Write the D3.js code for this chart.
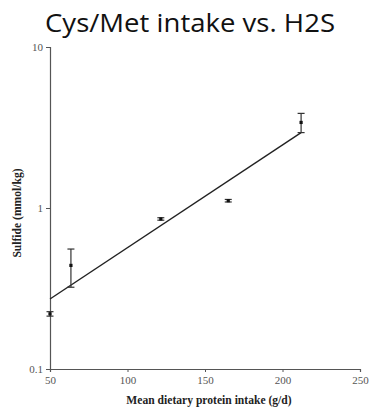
<!DOCTYPE html>
<html>
<head>
<meta charset="utf-8">
<script src="https://cdn.jsdelivr.net/npm/d3@7"></script>
<style>
  html, body { margin: 0; padding: 0; background: #fff; }
  svg { display: block; }
</style>
</head>
<body>
<svg id="chart" width="370" height="411"></svg>
<script>
// Mean dietary protein intake (g/d) per diet group
const proteinIntake = [50, 63.5, 121.5, 165, 212];
// Faecal sulfide (mmol/kg), with error bar bounds
const sulfide = [0.22, 0.44, 0.855, 1.11, 3.4];
const sulfideLow = [0.213, 0.322, 0.84, 1.09, 2.94];
const sulfideHigh = [0.227, 0.556, 0.87, 1.13, 3.87];
// Regression line end points
const fitIntake = [50, 212];
const fitSulfide = [0.272, 2.94];
// Axis ticks
const xTicks = [50, 100, 150, 200, 250];
const yTicks = [0.1, 1, 10];
const yTickLabels = ["0.1", "1", "10"];

const svg = d3.select("#chart");
const serif = "'Liberation Serif', 'Times New Roman', serif";

const x = d3.scaleLinear().domain([50, 250]).range([50, 360]);
const y = d3.scaleLog().domain([0.1, 10]).range([369, 47]);

// Title
svg.append("text")
  .attr("x", 45).attr("y", 32)
  .attr("font-family", "'Open Sans', 'Noto Sans', sans-serif")
  .attr("font-size", 26)
  .attr("textLength", 290)
  .attr("lengthAdjust", "spacingAndGlyphs")
  .attr("fill", "#111")
  .text("Cys/Met intake vs. H2S");

// Axes
const xAxis = svg.append("g")
  .attr("transform", `translate(0,${y(0.1)})`)
  .call(d3.axisBottom(x).tickValues(xTicks).tickSize(3).tickPadding(4).tickFormat(d3.format("d")));
const yAxis = svg.append("g")
  .attr("transform", `translate(${x(50)},0)`)
  .call(d3.axisLeft(y).tickValues(yTicks).tickSize(4).tickPadding(3)
    .tickFormat((d, i) => yTickLabels[i]));

[xAxis, yAxis].forEach(g => {
  g.select(".domain").attr("stroke", "#555").attr("stroke-width", 1.2);
  g.selectAll(".tick line").attr("stroke", "#555");
  g.selectAll("text")
    .attr("font-family", serif)
    .attr("font-size", 11)
    .attr("fill", "#555");
});

// Axis titles
svg.append("text")
  .attr("x", 209).attr("y", 404)
  .attr("text-anchor", "middle")
  .attr("font-family", serif)
  .attr("font-weight", "bold")
  .attr("font-size", 11.6)
  .attr("fill", "#222")
  .text("Mean dietary protein intake (g/d)");

svg.append("text")
  .attr("transform", `translate(21,${213}) rotate(-90)`)
  .attr("text-anchor", "middle")
  .attr("font-family", serif)
  .attr("font-weight", "bold")
  .attr("font-size", 11.6)
  .attr("fill", "#222")
  .text("Sulfide (mmol/kg)");

// Regression line
svg.append("line")
  .attr("x1", x(fitIntake[0])).attr("y1", y(fitSulfide[0]))
  .attr("x2", x(fitIntake[1])).attr("y2", y(fitSulfide[1]))
  .attr("stroke", "#222").attr("stroke-width", 1.4);

// Error bars and means
const data = proteinIntake.map((p, i) => ({
  p, v: sulfide[i], lo: sulfideLow[i], hi: sulfideHigh[i]
}));
const g = svg.append("g").attr("stroke", "#333").attr("stroke-width", 1.2);
data.forEach(d => {
  const cx = x(d.p);
  g.append("line").attr("x1", cx).attr("x2", cx)
    .attr("y1", y(d.lo)).attr("y2", y(d.hi));
  [d.lo, d.hi].forEach(b => {
    g.append("line").attr("x1", cx - 3.5).attr("x2", cx + 3.5)
      .attr("y1", y(b)).attr("y2", y(b));
  });
});
svg.append("g").selectAll("rect").data(data).join("rect")
  .attr("x", d => x(d.p) - 1.6).attr("y", d => y(d.v) - 1.6)
  .attr("width", 3.2).attr("height", 3.2)
  .attr("fill", "#111");
</script>
</body>
</html>
